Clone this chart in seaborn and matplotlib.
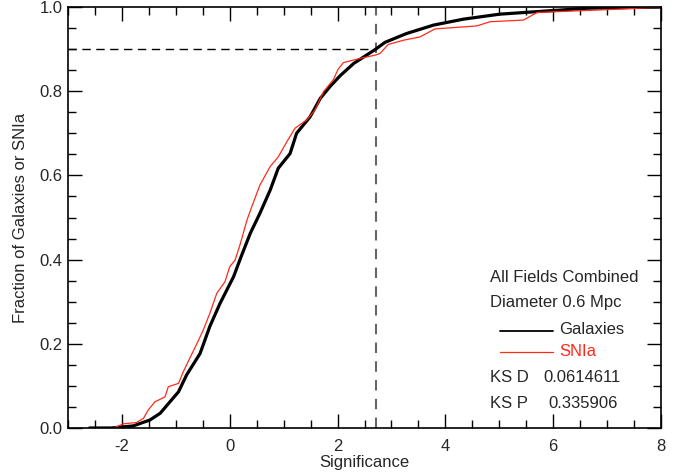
import matplotlib
matplotlib.use("Agg")
import matplotlib.pyplot as plt
import seaborn as sns
import pandas as pd
from matplotlib.ticker import MultipleLocator

# ---- data ----
gal_x = [-2.6, -2.2, -1.79, -1.48, -1.29, -0.95, -0.80, -0.55, -0.37, -0.18, 0.07, 0.22,
         0.38, 0.56, 0.75, 0.90, 1.12, 1.24, 1.49, 1.68, 1.86, 2.05, 2.30, 2.71, 2.88,
         3.28, 3.78, 4.33, 5.01, 5.70, 6.62, 8.0]
gal_y = [0.0, 0.0, 0.005, 0.019, 0.035, 0.086, 0.126, 0.177, 0.241, 0.296, 0.359, 0.41,
         0.462, 0.51, 0.565, 0.617, 0.652, 0.70, 0.739, 0.783, 0.811, 0.837, 0.866, 0.90, 0.916,
         0.937, 0.957, 0.971, 0.983, 0.989, 0.997, 1.0]

sn_x = [-2.16, -1.97, -1.73, -1.60, -1.51, -1.39, -1.20, -1.14, -0.95, -0.86, -0.74, -0.61,
        -0.49, -0.37, -0.24, -0.09, 0.0, 0.10, 0.19, 0.32, 0.41, 0.56, 0.75, 0.90, 1.06,
        1.21, 1.43, 1.58, 1.74, 1.92, 2.01, 2.11, 2.42, 2.71, 2.79, 2.94, 3.22, 3.53, 3.81,
        4.58, 4.83, 5.45, 5.70, 7.24, 8.0]
sn_y = [0.0, 0.01, 0.013, 0.023, 0.043, 0.062, 0.074, 0.098, 0.106, 0.134, 0.166, 0.20,
        0.233, 0.272, 0.32, 0.347, 0.383, 0.399, 0.435, 0.494, 0.526, 0.577, 0.621, 0.644, 0.68,
        0.712, 0.732, 0.755, 0.799, 0.827, 0.852, 0.868, 0.878, 0.886, 0.89, 0.911, 0.921, 0.929, 0.948,
        0.955, 0.965, 0.969, 0.987, 0.995, 1.0]

threshold_x = 2.71
threshold_y = 0.9

title_lines = ["All Fields Combined", "Diameter 0.6 Mpc"]
series_names = ["Galaxies", "SNIa"]
ks_labels = ["KS D", "KS P"]
ks_values = ["0.0614611", "0.335906"]

# ---- plotting ----
sns.set_style("ticks")
plt.rcParams["font.family"] = ["Liberation Sans", "DejaVu Sans"]

W, H = 680, 476
FS = 12
fig = plt.figure(figsize=(6.8, 4.76), dpi=100)
ax = fig.add_axes([68 / W, 1 - 428 / H, (661 - 68) / W, (428 - 7) / H])

df = pd.concat([
    pd.DataFrame({"x": gal_x, "y": gal_y, "s": series_names[0]}),
    pd.DataFrame({"x": sn_x, "y": sn_y, "s": series_names[1]}),
])
sns.lineplot(data=df[df.s == series_names[0]], x="x", y="y", color="black",
             linewidth=2.3, sort=False, estimator=None, ax=ax, legend=False)
sns.lineplot(data=df[df.s == series_names[1]], x="x", y="y", color="#ff2a1a",
             linewidth=0.9, sort=False, estimator=None, ax=ax, legend=False)

ax.axvline(threshold_x, color="#666666", linewidth=1.5, linestyle=(0, (5, 4)), zorder=1)
ax.plot([-3, threshold_x], [threshold_y, threshold_y], color="black", linewidth=1.0,
        linestyle=(0, (6, 4)), zorder=1)

ax.set_xlim(-3, 8)
ax.set_ylim(0, 1.0)
ax.xaxis.set_minor_locator(MultipleLocator(0.5))
ax.yaxis.set_minor_locator(MultipleLocator(0.05))
ax.tick_params(which="both", direction="in", top=True, right=True, color="black",
               labelsize=FS, width=1)
ax.tick_params(which="major", length=10, pad=8)
ax.tick_params(which="minor", length=6)
for sp in ax.spines.values():
    sp.set_linewidth(1.2)
    sp.set_color("black")
ax.set_xticks([-2, 0, 2, 4, 6, 8])
ax.set_xticklabels(["-2", "0", "2", "4", "6", "8"])
ax.set_yticks([0.0, 0.2, 0.4, 0.6, 0.8, 1.0])
ax.set_yticklabels(["0.0", "0.2", "0.4", "0.6", "0.8", "1.0"])
ax.tick_params(axis="y", which="major", pad=4)
ax.set_xlabel("Significance", fontsize=FS, labelpad=1)
ax.set_ylabel("Fraction of Galaxies or SNIa", fontsize=FS, labelpad=8)

def ftext(px, py, s, **kw):
    fig.text(px / W, 1 - py / H, s, fontsize=FS, va="center", **kw)

ftext(490, 277, title_lines[0])
ftext(490, 303, title_lines[1])
fig.add_artist(plt.Line2D([500 / W, 553 / W], [1 - 331 / H] * 2, color="black", linewidth=1.3))
fig.add_artist(plt.Line2D([500 / W, 553 / W], [1 - 352 / H] * 2, color="#ff2a1a", linewidth=0.9))
ftext(559, 330, series_names[0])
ftext(559, 351, series_names[1], color="#ff2a1a")
ftext(490, 378, ks_labels[0])
ftext(543, 378, ks_values[0])
ftext(490, 403, ks_labels[1])
ftext(548, 403, ks_values[1])

fig.savefig("out.png", dpi=100)
